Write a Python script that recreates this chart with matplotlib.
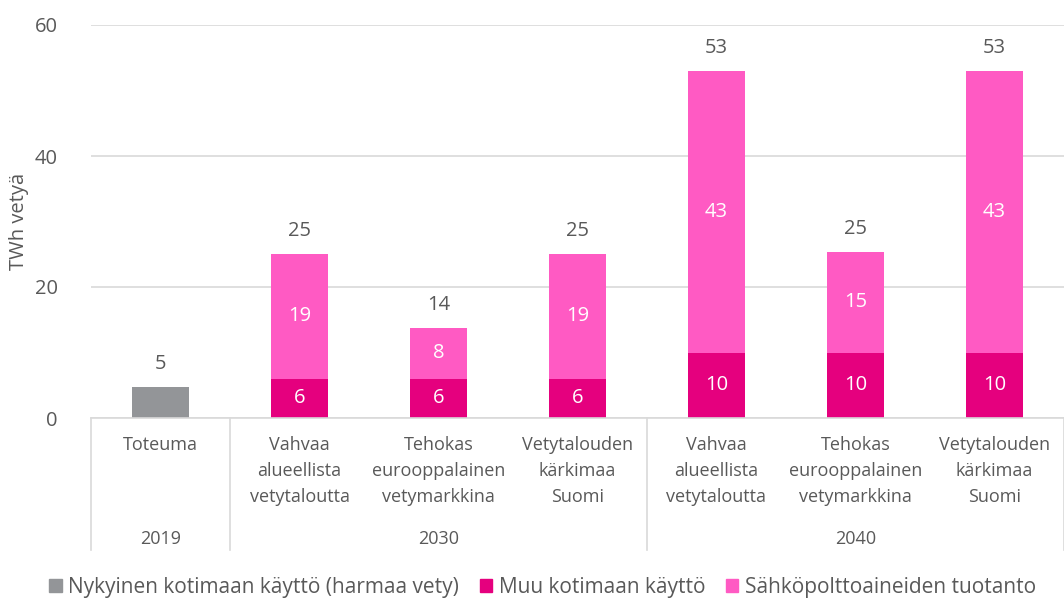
import matplotlib
matplotlib.use("Agg")
import matplotlib.pyplot as plt
import matplotlib.transforms as mtrans
from matplotlib.patches import Patch

plt.rcParams['font.family'] = ['Open Sans', 'DejaVu Sans']

# data
categories = ["Toteuma",
              "Vahvaa\nalueellista\nvetytaloutta",
              "Tehokas\neurooppalainen\nvetymarkkina",
              "Vetytalouden\nkärkimaa\nSuomi",
              "Vahvaa\nalueellista\nvetytaloutta",
              "Tehokas\neurooppalainen\nvetymarkkina",
              "Vetytalouden\nkärkimaa\nSuomi"]
years = ["2019", "2030", "2040"]
year_groups = [(0, 0), (1, 3), (4, 6)]
nykyinen = [4.7, 0, 0, 0, 0, 0, 0]
muu = [0, 6, 6, 6, 10, 10, 10]
sahko = [0, 19, 7.7, 19, 43, 15.3, 43]
series_names = ["Nykyinen kotimaan käyttö (harmaa vety)",
                "Muu kotimaan käyttö",
                "Sähköpolttoaineiden tuotanto"]

c_gray = "#939598"
c_mag = "#E5007E"
c_pink = "#FF5AC3"
txt = "#595959"
grid_c = "#D9D9D9"

fig = plt.figure(figsize=(10.64, 5.98), dpi=100)
ax = fig.add_axes([91/1064, 180/598, 973/1064, 393/598])

x = list(range(len(categories)))
w = 0.41
ax.bar(x, nykyinen, w, color=c_gray)
ax.bar(x, muu, w, color=c_mag)
ax.bar(x, sahko, w, bottom=muu, color=c_pink)

# labels
for i in x:
    total = nykyinen[i] + muu[i] + sahko[i]
    ax.text(i, total + 2.0, "%d" % round(total), ha='center', va='bottom',
            fontsize=14.5, color=txt)
    if muu[i] > 0:
        ax.text(i, muu[i] / 2, "%d" % round(muu[i]), ha='center', va='center',
                fontsize=14.5, color='white')
    if sahko[i] > 0:
        ax.text(i, muu[i] + sahko[i] / 2, "%d" % round(sahko[i]), ha='center',
                va='center', fontsize=14.5, color='white')

ax.set_xlim(-0.5, 6.5)
ax.set_ylim(0, 60)
ax.set_yticks([0, 20, 40, 60])
ax.yaxis.grid(True, color=grid_c, linewidth=1.2)
ax.set_axisbelow(True)
for s in ['left', 'right', 'top']:
    ax.spines[s].set_visible(False)
ax.spines['bottom'].set_color(grid_c)
ax.spines['bottom'].set_linewidth(1.2)
ax.tick_params(axis='y', length=0, pad=24, labelsize=14.5, labelcolor=txt)
ax.set_xticks([])
ax.set_ylabel("TWh vetyä", fontsize=14.5, color=txt)
ax.yaxis.set_label_coords(-0.064, 0.5)

# multi-level category axis
trans = mtrans.blended_transform_factory(ax.transData, ax.transAxes)
for sx in [-0.5, 0.5, 3.5, 6.5]:
    ax.plot([sx, sx], [0, -0.335], transform=trans, color=grid_c,
            linewidth=1.2, clip_on=False)
for i, lab in enumerate(categories):
    ax.text(i, -0.045, lab, transform=trans, ha='center', va='top',
            fontsize=13, color=txt, linespacing=1.6)
for yr, (a, b) in zip(years, year_groups):
    ax.text((a + b) / 2, -0.308, yr, transform=trans, ha='center',
            va='center', fontsize=13, color=txt)

handles = [Patch(color=c_gray), Patch(color=c_mag), Patch(color=c_pink)]
fig.legend(handles, series_names, loc='center', ncol=3,
           bbox_to_anchor=(0.51, 1 - 587/598), frameon=False, fontsize=15,
           handlelength=0.6, handleheight=0.6, handletextpad=0.3,
           columnspacing=1.0, labelcolor=txt)

fig.savefig("out.png", dpi=100)
